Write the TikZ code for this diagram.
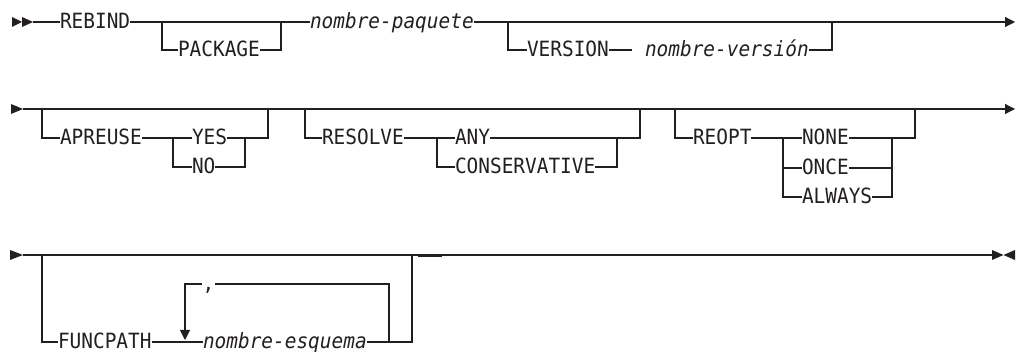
\documentclass[tikz,border=0pt]{standalone}
\usepackage{fontspec}
\usetikzlibrary{arrows.meta}
\newfontfamily\railfont{DejaVu Sans Mono}[FakeStretch=0.925]
\definecolor{ink}{RGB}{35,31,32}
\tikzset{
  kw/.style={font={\railfont\fontsize{21}{24}\selectfont}, inner sep=0pt, outer sep=0pt,
    anchor=west, text height=13.5pt, text depth=0pt, text=ink},
  var/.style={kw, font={\railfont\itshape\fontsize{21}{24}\selectfont}},
  rail/.style={draw=ink, line width=1.1pt},
  tipshape/.style={fill=ink},
  endarrow/.style={rail, -{Triangle[length=10pt,width=10pt]}}
}
\begin{document}
\begin{tikzpicture}[x=1pt,y=-1pt]
\useasboundingbox (0,0) rectangle (1018,352);

% ---------- Row 1 ----------
\fill[tipshape] (12,17) -- (22,22) -- (12,27) -- cycle;
\fill[tipshape] (22,17) -- (33,22) -- (22,27) -- cycle;
\coordinate (r1s) at (33,22);
\node[kw] (rebind) at (60,22) {REBIND};
\coordinate (p1a) at (162,22);
\coordinate (p1b) at (162,50);
\node[kw] (package) at (178,50) {PACKAGE};
\coordinate (p1c) at (281,50);
\coordinate (p1d) at (281,22);
\node[var] (npaq) at (310,22) {nombre-paquete};
\coordinate (v1a) at (508,22);
\coordinate (v1b) at (508,50);
\node[kw] (version) at (527,50) {VERSION};
\coordinate (v1g) at (632,50);
\node[var] (nver) at (645,50) {nombre-versión};
\coordinate (v1c) at (832,50);
\coordinate (v1d) at (832,22);
\coordinate (r1e) at (1015,22);

\draw[rail] (r1s) -- (rebind.west);
\draw[rail] (rebind.east) -- (npaq.west);
\draw[rail] (p1a) -- (p1b) -- (package.west);
\draw[rail] (package.east) -- (p1c) -- (p1d);
\draw[endarrow] (npaq.east) -- (r1e);
\draw[rail] (v1a) -- (v1b) -- (version.west);
\draw[rail] (version.east) -- (v1g);
\draw[rail] (nver.east) -- (v1c) -- (v1d);

% ---------- Row 2 ----------
\fill[tipshape] (11,104) -- (23,109) -- (11,114) -- cycle;
\coordinate (r2s) at (23,109);
\coordinate (r2e) at (1015,109);
\draw[endarrow] (r2s) -- (r2e);

\coordinate (a1) at (42,109);
\coordinate (a2) at (42,138);
\node[kw] (apreuse) at (60,138) {APREUSE};
\coordinate (a3) at (173,138);
\coordinate (a4) at (173,167);
\node[kw] (yes) at (192,138) {YES};
\node[kw] (no) at (192,167) {NO};
\coordinate (a5) at (245,138);
\coordinate (a6) at (245,167);
\coordinate (a7) at (268,138);
\coordinate (a8) at (268,109);
\draw[rail] (a1) -- (a2) -- (apreuse.west);
\draw[rail] (apreuse.east) -- (yes.west);
\draw[rail] (a3) -- (a4) -- (no.west);
\draw[rail] (yes.east) -- (a7) -- (a8);
\draw[rail] (no.east) -- (a6) -- (a5);

\coordinate (b1) at (305,109);
\coordinate (b2) at (305,138);
\node[kw] (resolve) at (322,138) {RESOLVE};
\coordinate (b3) at (437,138);
\coordinate (b4) at (437,167);
\node[kw] (any) at (455,138) {ANY};
\node[kw] (cons) at (455,167) {CONSERVATIVE};
\coordinate (b5) at (617,138);
\coordinate (b6) at (617,167);
\coordinate (b7) at (640,138);
\coordinate (b8) at (640,109);
\draw[rail] (b1) -- (b2) -- (resolve.west);
\draw[rail] (resolve.east) -- (any.west);
\draw[rail] (b3) -- (b4) -- (cons.west);
\draw[rail] (any.east) -- (b7) -- (b8);
\draw[rail] (cons.east) -- (b6) -- (b5);

\coordinate (c1) at (675,109);
\coordinate (c2) at (675,138);
\node[kw] (reopt) at (693,138) {REOPT};
\coordinate (c3) at (783,138);
\coordinate (c4) at (783,197);
\node[kw] (none) at (802,138) {NONE};
\node[kw] (once) at (802,168) {ONCE};
\node[kw] (always) at (802,197) {ALWAYS};
\coordinate (c5) at (892,138);
\coordinate (c7) at (892,197);
\coordinate (c8) at (915,138);
\coordinate (c9) at (915,109);
\draw[rail] (c1) -- (c2) -- (reopt.west);
\draw[rail] (reopt.east) -- (none.west);
\draw[rail] (c3) -- (c4) -- (always.west);
\draw[rail] (once.west -| c3) -- (once.west);
\draw[rail] (none.east) -- (c8) -- (c9);
\draw[rail] (once.east) -- (once.east -| c5);
\draw[rail] (always.east) -- (c7) -- (c5);

% ---------- Row 3 ----------
\fill[tipshape] (10,250) -- (23,255) -- (10,260) -- cycle;
\coordinate (r3s) at (23,255);
\coordinate (r3e) at (993,255);
\draw[rail] (r3s) -- (r3e);
\fill[tipshape] (992,250) -- (1003.5,255) -- (992,260) -- cycle;
\fill[tipshape] (1015,250) -- (1003.5,255) -- (1015,260) -- cycle;

\coordinate (d1) at (42,255);
\coordinate (d2) at (42,342);
\node[kw] (funcpath) at (58,342) {FUNCPATH};
\coordinate (d3) at (185,340);
\node[var] (nesq) at (203,342) {nombre-esquema};
\coordinate (d4) at (389,342);
\coordinate (d5) at (412,342);
\coordinate (d6) at (412,255);
\coordinate (l1) at (185,284);
\coordinate (l2) at (202,284);
\coordinate (l3) at (215,284);
\coordinate (l4) at (389,284);
\node[kw, anchor=base] (comma) at (208.5,291) {,};
\draw[rail] (d1) -- (d2) -- (funcpath.west);
\draw[rail] (funcpath.east) -- (nesq.west);
\draw[endarrow] (l2) -- (l1) -- (d3);
\draw[rail] (l3) -- (l4) -- (d4);
\draw[rail] (nesq.east) -- (d5) -- (d6);
\draw[draw=ink, line width=2.4pt] (418,255.7) -- (442,255.7);

\end{tikzpicture}
\end{document}
